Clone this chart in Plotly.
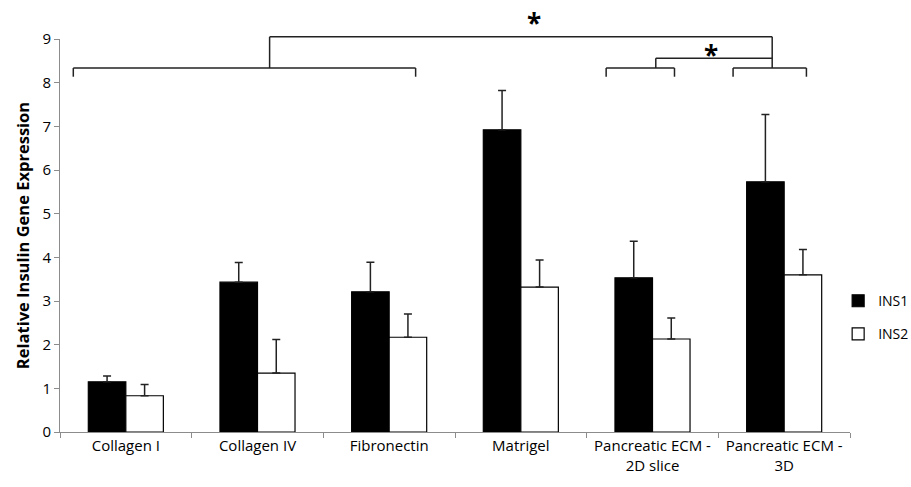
import plotly.graph_objects as go

categories = ["Collagen I", "Collagen IV", "Fibronectin", "Matrigel",
              "Pancreatic ECM -<br>2D slice", "Pancreatic ECM -<br>3D"]
ins1 = [1.15, 3.43, 3.21, 6.92, 3.53, 5.73]
ins1_err = [0.13, 0.45, 0.68, 0.90, 0.84, 1.54]
ins2 = [0.83, 1.35, 2.17, 3.32, 2.13, 3.60]
ins2_err = [0.26, 0.77, 0.53, 0.62, 0.48, 0.58]
y_ticks = [0, 1, 2, 3, 4, 5, 6, 7, 8, 9]

FONT = "Open Sans"
fig = go.Figure()
fig.add_trace(go.Bar(
    name="INS1", x=categories, y=ins1, legendgroup="a",
    marker=dict(color="black", line=dict(color="black", width=1.2)),
    error_y=dict(type="data", array=ins1_err, arrayminus=[0]*6, symmetric=False,
                 color="#222", thickness=1.5, width=4),
))
fig.add_trace(go.Bar(
    name="INS2", x=categories, y=ins2, legendgroup="b",
    marker=dict(color="white", line=dict(color="black", width=1.2)),
    error_y=dict(type="data", array=ins2_err, arrayminus=[0]*6, symmetric=False,
                 color="#222", thickness=1.5, width=4),
))

def py(v):
    return v / 9.0

line = dict(color="#222", width=1.5)
segs = [
    (-0.399, 8.136, -0.399, 8.335), (-0.399, 8.335, 2.201, 8.335), (2.201, 8.335, 2.201, 8.136),
    (1.092, 8.335, 1.092, 9.05), (1.092, 9.05, 4.909, 9.05), (4.909, 9.05, 4.909, 8.335),
    (3.648, 8.136, 3.648, 8.335), (3.648, 8.335, 4.167, 8.335), (4.167, 8.335, 4.167, 8.136),
    (4.025, 8.335, 4.025, 8.557), (4.025, 8.557, 4.909, 8.557),
    (4.612, 8.136, 4.612, 8.335), (4.612, 8.335, 5.169, 8.335), (5.169, 8.335, 5.169, 8.136),
]
for x0, y0, x1, y1 in segs:
    fig.add_shape(type="line", xref="x", yref="paper", x0=x0, x1=x1, y0=py(y0), y1=py(y1), line=line)

fig.add_annotation(x=3.101, y=py(9.366), xref="x", yref="paper", yanchor="middle", text="<b>*</b>",
                   showarrow=False, font=dict(size=26, color="black", family=FONT))
fig.add_annotation(x=4.441, y=py(8.64), xref="x", yref="paper", yanchor="middle", text="<b>*</b>",
                   showarrow=False, font=dict(size=26, color="black", family=FONT))

fig.update_layout(
    width=911, height=487,
    margin=dict(l=60, r=61, t=39, b=55, autoexpand=False),
    paper_bgcolor="white", plot_bgcolor="white",
    barmode="group", bargap=0.43, bargroupgap=0,
    font=dict(family=FONT, size=15, color="black"),
    showlegend=True,
    legend=dict(x=0.985, y=0.291, xanchor="left", yanchor="middle",
                font=dict(size=14, family=FONT), tracegroupgap=12, itemwidth=30),
    xaxis=dict(type="category", range=[-0.5, 5.5], showline=True, linecolor="#8c8c8c", linewidth=1,
               ticks="outside", tickson="boundaries", ticklen=5, tickcolor="#8c8c8c",
               tickfont=dict(size=15, family=FONT), showgrid=False, automargin=False),
    yaxis=dict(range=[0, 9], tickvals=y_ticks, showline=True, linecolor="#8c8c8c", linewidth=1,
               ticks="outside", ticklen=5, tickcolor="#8c8c8c", showgrid=False, zeroline=False,
               tickfont=dict(size=15, family=FONT), automargin=False,
               title=dict(text="<b>Relative Insulin Gene Expression</b>", font=dict(size=16.5, family=FONT),
                          standoff=8)),
)
# remove the default 8px page margin so the 911x487 figure fills the window
fig.write_html("out.html", config={"displayModeBar": False},
               post_script="document.body.style.margin='0px';")
